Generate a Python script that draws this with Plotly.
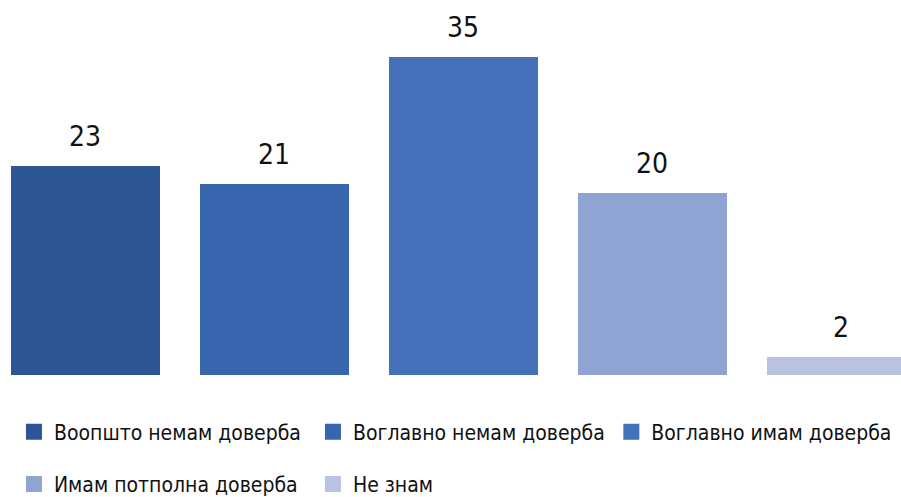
import plotly.graph_objects as go

# ---------------------------------------------------------------------------
# data
# ---------------------------------------------------------------------------
categories = [
    "Воопшто немам доверба",
    "Воглавно немам доверба",
    "Воглавно имам доверба",
    "Имам потполна доверба",
    "Не знам",
]
values = [23, 21, 35, 20, 2]
colors = ["#2C5596", "#3965AE", "#4571BA", "#8FA4D3", "#B8C3E2"]

FONT = "DejaVu Sans Condensed, Liberation Sans Narrow, sans-serif"

# which legend box each entry sits in (row 1 split in two so nothing wraps)
legend_ids = ["legend", "legend", "legend3", "legend2", "legend2"]

fig = go.Figure()

for i, (name, val, col) in enumerate(zip(categories, values, colors)):
    fig.add_trace(go.Bar(
        x=[i], y=[val], width=0.79, marker=dict(color=col, line=dict(width=0)),
        showlegend=False, hoverinfo="skip",
    ))
    # legend-only marker (bigger square than the bar default)
    fig.add_trace(go.Scatter(
        x=[None], y=[None], mode="markers", name=name,
        marker=dict(symbol="square", size=18, color=col),
        legend=legend_ids[i],
    ))
    fig.add_annotation(
        x=i, y=val, text=str(val), showarrow=False,
        yanchor="bottom", yshift=11,
        font=dict(size=28, color="#111111", family=FONT),
    )

legend_style = dict(
    orientation="h", xanchor="left", yanchor="middle",
    entrywidth=254, entrywidthmode="pixels", font=dict(size=21, family=FONT),
    bgcolor="rgba(0,0,0,0)",
)

fig.update_layout(
    width=901, height=497,
    margin=dict(l=0, r=0, t=20, b=122, autoexpand=False),
    paper_bgcolor="white", plot_bgcolor="white",
    font=dict(family=FONT, size=21, color="#111111"),
    bargap=0,
    xaxis=dict(range=[-0.452, 4.315], visible=False, fixedrange=True),
    yaxis=dict(range=[0, 39.07], visible=False, fixedrange=True),
    legend=dict(legend_style, x=0.0155, y=-0.1606),
    legend3=dict(legend_style, x=0.6785, y=-0.1606, entrywidth=0),
    legend2=dict(legend_style, x=0.0155, y=-0.308),
)

# page body has a default 8px margin -> drop it so the figure fills the window
fig.write_html(
    "out.html",
    config={"displayModeBar": False},
    post_script="document.body.style.margin='0';",
)
